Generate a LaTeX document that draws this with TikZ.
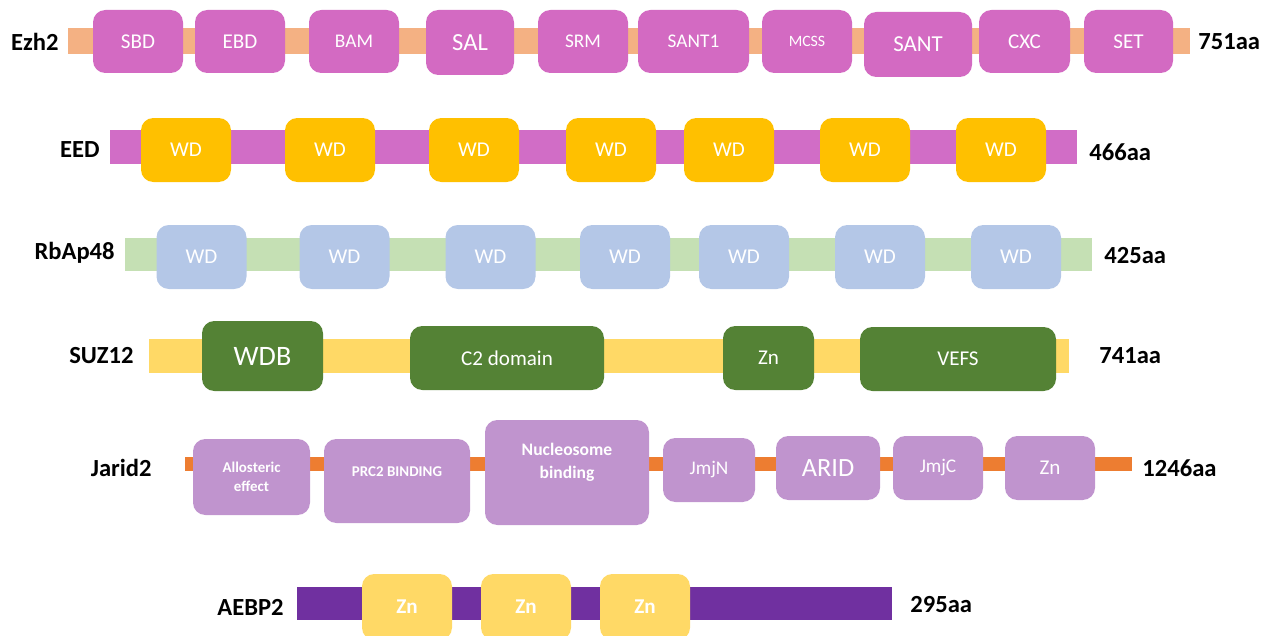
\documentclass[tikz,border=0pt]{standalone}
\usepackage{fontspec}
\setmainfont{Carlito}
\definecolor{ezhbar}{HTML}{F4B183}
\definecolor{ezhfill}{HTML}{D36AC2}
\definecolor{eedbar}{HTML}{D16DC6}
\definecolor{eedfill}{HTML}{FFC000}
\definecolor{rbbar}{HTML}{C5E0B4}
\definecolor{rbfill}{HTML}{B4C7E7}
\definecolor{suzbar}{HTML}{FFD966}
\definecolor{suzfill}{HTML}{548235}
\definecolor{jarbar}{HTML}{ED7D31}
\definecolor{jarfill}{HTML}{C094CE}
\definecolor{aebbar}{HTML}{7030A0}
\definecolor{aebfill}{HTML}{FFD966}
\tikzset{
    base/.style={rectangle, rounded corners=7pt, inner sep=0pt, align=center, text=white, font=\fontsize{12}{14}\selectfont},
    wh/.style 2 args={minimum width=#1*0.02cm, minimum height=#2*0.02cm},
    ezhbox/.style={base, fill=ezhfill},
    eedbox/.style={base, fill=eedfill, wh={90}{64}},
    rbbox/.style={base, fill=rbfill, wh={90}{64}},
    suzbox/.style={base, fill=suzfill},
    jarbox/.style={base, fill=jarfill},
    aebbox/.style={base, fill=aebfill, wh={90}{66}, font=\bfseries\fontsize{12}{14}\selectfont},
    protein/.style={anchor=east, inner sep=0pt, font=\bfseries\fontsize{14}{16}\selectfont},
    length/.style={anchor=west, inner sep=0pt, font=\bfseries\fontsize{14}{16}\selectfont}
}

\begin{document}
\begin{tikzpicture}[x=0.02cm, y=-0.02cm]
    \clip (0,0) rectangle (1273,635);

    % Ezh2
    \fill [ezhbar] (68,28) rectangle (1190,54);
    \node [protein] (ezh) at (59,42) {Ezh2};
    \node [ezhbox, wh={90}{63}] (sbd) at (138,41.5) {SBD};
    \node [ezhbox, wh={90}{63}] (ebd) at (240,41.5) {EBD};
    \node [ezhbox, wh={90}{63}, font=\fontsize{11}{13}\selectfont] (bam) at (354,41.5) {BAM};
    \node [ezhbox, wh={88}{65}, font=\fontsize{14}{16}\selectfont] (sal) at (470,42.5) {SAL};
    \node [ezhbox, wh={90}{63}, font=\fontsize{11}{13}\selectfont] (srm) at (583,41.5) {SRM};
    \node [ezhbox, wh={111}{63}, font=\fontsize{11}{13}\selectfont] (santone) at (693.5,41.5) {SANT1};
    \node [ezhbox, wh={90}{63}, font=\fontsize{9}{11}\selectfont] (mcss) at (807,41.5) {MCSS};
    \node [ezhbox, wh={108}{65}, font=\fontsize{13}{15}\selectfont] (sant) at (918,44.5) {SANT};
    \node [ezhbox, wh={91}{63}] (cxc) at (1024.5,41.5) {CXC};
    \node [ezhbox, wh={89}{63}] (set) at (1128.5,41.5) {SET};
    \node [length] (ezhlen) at (1198,42) {751aa};

    % EED
    \fill [eedbar] (110,130) rectangle (1077,164);
    \node [protein] (eed) at (100,150) {EED};
    \node [eedbox] (eedwda) at (186,150) {WD};
    \node [eedbox] (eedwdb) at (330,150) {WD};
    \node [eedbox] (eedwdc) at (474,150) {WD};
    \node [eedbox] (eedwdd) at (611,150) {WD};
    \node [eedbox] (eedwde) at (729,150) {WD};
    \node [eedbox] (eedwdf) at (865,150) {WD};
    \node [eedbox] (eedwdg) at (1001,150) {WD};
    \node [length] (eedlen) at (1089,152) {466aa};

    % RbAp48
    \fill [rbbar] (125,238) rectangle (1092,271);
    \node [protein] (rbap) at (115,253) {RbAp48};
    \node [rbbox] (rbwda) at (201.5,257) {WD};
    \node [rbbox] (rbwdb) at (344.5,257) {WD};
    \node [rbbox] (rbwdc) at (490.5,257) {WD};
    \node [rbbox] (rbwdd) at (625,257) {WD};
    \node [rbbox] (rbwde) at (744,257) {WD};
    \node [rbbox] (rbwdf) at (880,257) {WD};
    \node [rbbox] (rbwdg) at (1016,257) {WD};
    \node [length] (rblen) at (1104,256) {425aa};

    % SUZ12
    \fill [suzbar] (149,339) rectangle (1069,373);
    \node [protein] (suz) at (134,356) {SUZ12};
    \node [suzbox, wh={121}{70}, font=\fontsize{16}{18}\selectfont] (wdb) at (262.5,356) {WDB};
    \node [suzbox, wh={194}{64}] (ctwo) at (507,358) {C2 domain};
    \node [suzbox, wh={91}{64}] (suzzn) at (768.5,358) {Zn};
    \node [suzbox, wh={196}{64}] (vefs) at (958,359) {VEFS};
    \node [length] (suzlen) at (1099,356) {741aa};

    % Jarid2
    \fill [jarbar] (185,457) rectangle (1132,471);
    \node [protein] (jarid) at (152,468) {Jarid2};
    \node [jarbox, wh={117}{76}, font=\bfseries\fontsize{8.5}{11}\selectfont] (allo) at (251.5,477) {Allosteric\\effect};
    \node [jarbox, wh={146}{84}, font=\bfseries\fontsize{8.5}{11}\selectfont] (prc) at (397,481) {PRC2 BINDING\\\mbox{}};
    \node [jarbox, wh={164}{105}, font=\bfseries\fontsize{10}{13}\selectfont] (nucl) at (567,472.5) {Nucleosome\\binding\\\mbox{}};
    \node [jarbox, wh={92}{64}, font=\fontsize{11}{13}\selectfont] (jmjn) at (709,470) {JmjN};
    \node [jarbox, wh={104}{64}, font=\fontsize{15}{17}\selectfont] (arid) at (828,468) {ARID};
    \node [jarbox, wh={90}{64}, font=\fontsize{11}{13}\selectfont] (jmjc) at (938,468) {JmjC};
    \node [jarbox, wh={90}{64}] (jarzn) at (1050,468) {Zn};
    \node [length] (jarlen) at (1142,468) {1246aa};

    % AEBP2
    \fill [aebbar] (297,587) rectangle (892,620);
    \node [protein] (aebp) at (284,607) {AEBP2};
    \node [aebbox] (aebzna) at (407,607) {Zn};
    \node [aebbox] (aebznb) at (526,607) {Zn};
    \node [aebbox] (aebznc) at (645,607) {Zn};
    \node [length] (aeblen) at (910,605) {295aa};
\end{tikzpicture}
\end{document}
